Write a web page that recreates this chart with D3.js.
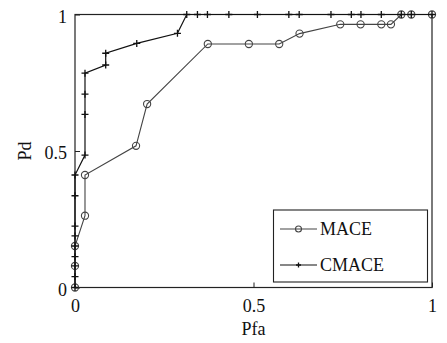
<!DOCTYPE html>
<html>
<head>
<meta charset="utf-8">
<script src="https://cdn.jsdelivr.net/npm/d3@7"></script>
<style>
  body { margin: 0; background: #fff; }
  svg text { font-family: "Liberation Serif", "Times New Roman", serif; fill: #111; }
</style>
</head>
<body>
<div id="chart"></div>
<script>
// ROC points
const maceX = [0, 0, 0, 0.028, 0.028, 0.171, 0.202, 0.372, 0.487, 0.572, 0.629, 0.743, 0.800, 0.858, 0.885, 0.914, 0.942, 1.0];
const maceY = [0, 0.079, 0.152, 0.263, 0.412, 0.519, 0.672, 0.892, 0.892, 0.892, 0.930, 0.964, 0.964, 0.964, 0.964, 1, 1, 1];

const cmaceX = [0, 0, 0, 0, 0, 0, 0, 0, 0, 0.028, 0.028, 0.028, 0.028, 0.086, 0.086, 0.173, 0.287,
                0.313, 0.343, 0.371, 0.431, 0.511, 0.599, 0.628, 0.717, 0.774, 0.801, 0.858, 0.914, 0.942, 1.0];
const cmaceY = [0, 0.040, 0.079, 0.113, 0.152, 0.189, 0.225, 0.336, 0.412, 0.485, 0.634, 0.708, 0.785, 0.815, 0.858, 0.894, 0.931,
                1, 1, 1, 1, 1, 1, 1, 1, 1, 1, 1, 1, 1, 1];

const xTicks = [0, 0.5, 1];
const yTicks = [0, 0.5, 1];
const seriesNames = ['MACE', 'CMACE'];

const width = 447, height = 343;
const margin = {top: 14.5, right: 15, bottom: 55.5, left: 75};

const svg = d3.select('#chart').append('svg')
  .attr('width', width)
  .attr('height', height);

const x = d3.scaleLinear().domain([0, 1]).range([margin.left, width - margin.right]);
const y = d3.scaleLinear().domain([0, 1]).range([height - margin.bottom, margin.top]);

// axes, ticks pointing inward
const xAxis = svg.append('g')
  .attr('transform', `translate(0,${y(0)})`)
  .call(d3.axisBottom(x).tickValues(xTicks).tickFormat(d3.format('')).tickSizeInner(-5).tickSizeOuter(0).tickPadding(12));
const yAxis = svg.append('g')
  .attr('transform', `translate(${x(0)},0)`)
  .call(d3.axisLeft(y).tickValues(yTicks).tickFormat(d3.format('')).tickSizeInner(-5).tickSizeOuter(0).tickPadding(8));

[xAxis, yAxis].forEach(g => {
  g.select('.domain').remove();
  g.selectAll('.tick line').attr('stroke', '#222');
  g.selectAll('.tick text')
    .style('font-family', '"Liberation Serif", serif')
    .style('font-size', '18px')
    .attr('fill', '#111');
});
yAxis.selectAll('.tick text').attr('dy', '0.42em');

// frame
svg.append('rect')
  .attr('x', x(0)).attr('y', y(1))
  .attr('width', x(1) - x(0)).attr('height', y(0) - y(1))
  .attr('fill', 'none').attr('stroke', '#222').attr('stroke-width', 1.2);

// axis titles
svg.append('text')
  .attr('x', (x(0) + x(1)) / 2).attr('y', 335)
  .attr('text-anchor', 'middle')
  .style('font-size', '18px')
  .text('Pfa');
svg.append('text')
  .attr('transform', `translate(31,${(y(0) + y(1)) / 2}) rotate(-90)`)
  .attr('text-anchor', 'middle')
  .style('font-size', '18px')
  .text('Pd');

const line = d3.line().x(d => x(d[0])).y(d => y(d[1]));
const mace = d3.zip(maceX, maceY);
const cmace = d3.zip(cmaceX, cmaceY);

function plus(g, px, py, s) {
  g.append('path')
    .attr('d', `M${px - s},${py}H${px + s}M${px},${py - s}V${py + s}`)
    .attr('stroke', '#111').attr('stroke-width', 1.3).attr('fill', 'none');
}
function ring(g, px, py, r) {
  g.append('circle')
    .attr('cx', px).attr('cy', py).attr('r', r)
    .attr('fill', 'none').attr('stroke', '#444').attr('stroke-width', 1.1);
}

// MACE
svg.append('path').datum(mace)
  .attr('d', line).attr('fill', 'none').attr('stroke', '#444').attr('stroke-width', 1.1);
const gm = svg.append('g');
mace.forEach(d => ring(gm, x(d[0]), y(d[1]), 3.6));

// CMACE
svg.append('path').datum(cmace)
  .attr('d', line).attr('fill', 'none').attr('stroke', '#111').attr('stroke-width', 1.2);
const gc = svg.append('g');
cmace.forEach(d => plus(gc, x(d[0]), y(d[1]), 3.5));

// legend
const lg = svg.append('g');
lg.append('rect')
  .attr('x', 273.5).attr('y', 210)
  .attr('width', 154).attr('height', 72)
  .attr('fill', '#fff').attr('stroke', '#222').attr('stroke-width', 1.1);
seriesNames.forEach((name, i) => {
  const ly = 229 + i * 36;
  lg.append('line')
    .attr('x1', 280).attr('x2', 317).attr('y1', ly).attr('y2', ly)
    .attr('stroke', i === 0 ? '#444' : '#111').attr('stroke-width', 1.1);
  if (i === 0) ring(lg, 298.5, ly, 3);
  else plus(lg, 298.5, ly, 2.5);
  lg.append('text')
    .attr('x', 320).attr('y', ly + 6)
    .style('font-size', '18px')
    .text(name);
});
</script>
</body>
</html>
